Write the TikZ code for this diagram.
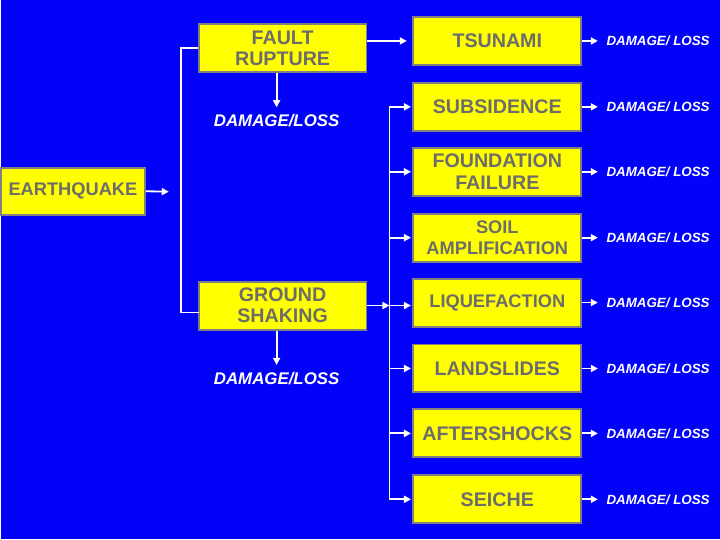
\documentclass[tikz,border=0pt]{standalone}
\usepackage{fontspec}
\setmainfont{Liberation Sans}
\usetikzlibrary{arrows.meta}
\definecolor{slideblue}{RGB}{2,2,248}
\definecolor{boxyellow}{RGB}{255,255,0}
\definecolor{boxgray}{RGB}{128,128,128}
\definecolor{labelgray}{RGB}{108,108,108}
\begin{document}
\begin{tikzpicture}[x=0.025cm,y=0.025cm]
\tikzstyle{every node}+=[inner sep=0pt]
\tikzstyle{hazard}=[draw=boxgray, line width=1.4pt, fill=boxyellow, text=labelgray, font=\fontsize{14}{15}\selectfont\bfseries, align=center, minimum width=4.2cm, minimum height=1.2cm]
\tikzstyle{loss}=[text=white, font=\fontsize{9.5}{11}\selectfont\bfseries\itshape]
\tikzstyle{bigloss}=[text=white, font=\fontsize{12}{14}\selectfont\bfseries\itshape]
\tikzstyle{wire}=[white, line width=1.3pt]
\tikzstyle{feed}=[wire, -{Triangle[length=5pt,width=5pt]}]
\fill [slideblue] (0,0) rectangle (720,-540);
\node [hazard, minimum width=3.6cm, minimum height=1.175cm, font=\fontsize{13}{15}\selectfont\bfseries] (quake) at (72,-191.5) {EARTHQUAKE};
\node [hazard] (fault) at (282,-48) {FAULT\\RUPTURE};
\node [hazard] (ground) at (282,-306) {GROUND\\SHAKING};
\node [bigloss] (faultloss) at (276,-121) {DAMAGE/LOSS};
\node [bigloss] (groundloss) at (276,-379) {DAMAGE/LOSS};
\node [hazard] (tsunami) at (497,-41) {TSUNAMI};
\node [hazard] (subsidence) at (497,-107) {SUBSIDENCE};
\node [hazard] (foundation) at (497,-172) {FOUNDATION\\FAILURE};
\node [hazard, font=\fontsize{13}{15}\selectfont\bfseries] (soil) at (497,-238) {SOIL\\AMPLIFICATION};
\node [hazard, font=\fontsize{13}{15}\selectfont\bfseries] (liquefaction) at (497,-303) {LIQUEFACTION};
\node [hazard] (landslides) at (497,-369) {LANDSLIDES};
\node [hazard] (aftershocks) at (497,-434) {AFTERSHOCKS};
\node [hazard] (seiche) at (497,-500) {SEICHE};
\node [loss] (tsunamiloss) at (658,-41) {DAMAGE/ LOSS};
\node [loss] (subsidenceloss) at (658,-107) {DAMAGE/ LOSS};
\node [loss] (foundationloss) at (658,-172) {DAMAGE/ LOSS};
\node [loss] (soilloss) at (658,-238) {DAMAGE/ LOSS};
\node [loss] (liquefactionloss) at (658,-303) {DAMAGE/ LOSS};
\node [loss] (landslidesloss) at (658,-369) {DAMAGE/ LOSS};
\node [loss] (aftershocksloss) at (658,-434) {DAMAGE/ LOSS};
\node [loss] (seicheloss) at (658,-500) {DAMAGE/ LOSS};
\coordinate (quakeend) at (168,-192);
\coordinate (trunktop) at (180,-48);
\coordinate (trunkbot) at (180,-313);
\coordinate (groundin) at (198,-313);
\coordinate (bustop) at (389,-107);
\coordinate (busbot) at (389,-500);
\draw [feed] (quake.east) -- (quakeend);
\draw [wire] (fault.west) -- (trunktop) -- (trunkbot) -- (groundin);
\draw [feed, shorten >=4pt] (fault.east |- tsunami.west) -- (tsunami.west);
\draw [feed, shorten >=5pt] (faultloss.north |- fault.south) -- (faultloss.north);
\draw [feed, shorten >=5pt] (groundloss.north |- ground.south) -- (groundloss.north);
\draw [wire] (bustop) -- (busbot);
\draw [feed] (ground.east) -- (ground.east -| bustop);
\draw [feed, shorten >=1pt] (ground.east -| bustop) -- (ground.east -| liquefaction.west);
\draw [feed, shorten >=1pt] (bustop) -- (subsidence.west);
\draw [feed, shorten >=1pt] (foundation.west -| bustop) -- (foundation.west);
\draw [feed, shorten >=1pt] (soil.west -| bustop) -- (soil.west);
\draw [feed, shorten >=1pt] (landslides.west -| bustop) -- (landslides.west);
\draw [feed, shorten >=1pt] (aftershocks.west -| bustop) -- (aftershocks.west);
\draw [feed, shorten >=1pt] (busbot) -- (seiche.west);
\draw [feed, shorten >=6pt] (tsunami.east) -- (tsunamiloss.west);
\draw [feed, shorten >=6pt] (subsidence.east) -- (subsidenceloss.west);
\draw [feed, shorten >=6pt] (foundation.east) -- (foundationloss.west);
\draw [feed, shorten >=6pt] (soil.east) -- (soilloss.west);
\draw [feed, shorten >=6pt] (liquefaction.east) -- (liquefactionloss.west);
\draw [feed, shorten >=6pt] (landslides.east) -- (landslidesloss.west);
\draw [feed, shorten >=6pt] (aftershocks.east) -- (aftershocksloss.west);
\draw [feed, shorten >=6pt] (seiche.east) -- (seicheloss.west);
\end{tikzpicture}
\end{document}
